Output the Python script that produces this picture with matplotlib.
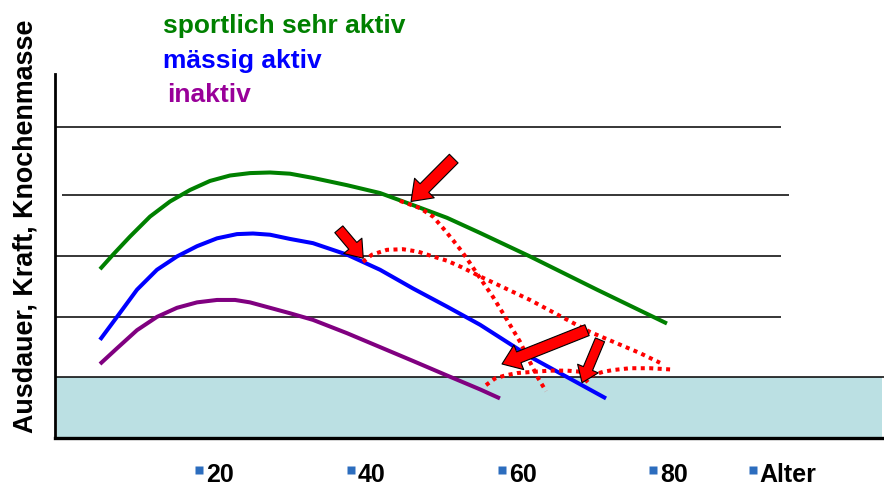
import matplotlib
matplotlib.use('Agg')
import matplotlib.pyplot as plt
from matplotlib.transforms import blended_transform_factory, offset_copy

plt.rcParams['font.family'] = ['Liberation Sans', 'DejaVu Sans']
plt.rcParams['font.weight'] = 'bold'

# age (years) against level (arbitrary units)
green_age = [4.74, 6.46, 8.71, 11.35, 13.99, 16.63, 19.27, 21.92, 24.56, 27.20,
             29.84, 32.88, 37.37, 41.73, 46.09, 50.58, 54.94, 61.55, 70.40, 79.64]
green_val = [2.79, 3.03, 3.33, 3.66, 3.91, 4.10, 4.25, 4.34, 4.38, 4.39,
             4.37, 4.30, 4.18, 4.05, 3.85, 3.64, 3.39, 3.00, 2.45, 1.89]

blue_age = [4.74, 6.99, 9.63, 12.27, 14.91, 17.56, 20.20, 22.84, 24.95, 27.20,
            29.84, 32.88, 37.37, 41.73, 46.09, 50.58, 54.94, 61.55, 71.59]
blue_val = [1.62, 2.00, 2.45, 2.78, 3.00, 3.17, 3.30, 3.37, 3.38, 3.36,
            3.29, 3.22, 3.03, 2.78, 2.47, 2.17, 1.87, 1.34, 0.65]

purple_age = [4.74, 6.99, 9.63, 12.27, 14.91, 17.56, 20.20, 22.58, 24.56, 27.20,
              29.84, 32.88, 37.37, 41.73, 46.09, 50.58, 54.94, 57.58]
purple_val = [1.22, 1.48, 1.78, 2.00, 2.15, 2.24, 2.28, 2.28, 2.24, 2.15,
              2.06, 1.95, 1.73, 1.50, 1.27, 1.03, 0.80, 0.65]

# red dotted declines
drop1_age = [44.37, 47.01, 48.73, 50.05, 51.37, 52.56, 53.62, 54.68, 56.66,
             58.51, 60.22, 61.55, 62.60, 63.66]
drop1_val = [3.92, 3.80, 3.66, 3.47, 3.27, 3.08, 2.89, 2.69, 2.33,
             1.95, 1.59, 1.25, 0.99, 0.77]

drop2_age = [39.48, 40.67, 42.65, 44.77, 46.75, 48.73, 50.58, 52.56, 54.94,
             61.55, 69.48, 73.44, 76.08, 78.72]
drop2_val = [2.91, 3.03, 3.11, 3.12, 3.08, 3.00, 2.93, 2.82, 2.67,
             2.28, 1.75, 1.54, 1.40, 1.24]

drop3_age = [55.73, 56.92, 58.24, 59.83, 61.95, 64.19, 66.44, 68.42]
drop3_val = [0.87, 0.98, 1.03, 1.07, 1.09, 1.11, 1.11, 1.09]

drop4_age = [68.82, 69.87, 71.20, 72.52, 74.76, 77.41, 80.05]
drop4_val = [0.92, 1.04, 1.09, 1.12, 1.15, 1.15, 1.13]

# arrows: (tail, tip)
arrows = [((51.47, 4.62), (45.83, 3.91)),
          ((36.29, 3.45), (39.52, 2.97)),
          ((69.08, 1.78), (57.85, 1.22)),
          ((70.79, 1.62), (68.42, 0.91))]
arrow_size = [21, 18, 20, 17]

# horizontal lines: level, start age, end age
grid_levels = [1, 2, 3, 4.01, 5.14]
grid_start = [-1.24, -1.24, -1.24, -0.28, -1.24]
grid_end = [108.31, 94.7, 94.7, 95.76, 94.7]

tick_pos = [20, 40, 60, 80, 93.1]
tick_labels = ['20', '40', '60', '80', 'Alter']

legend_text = ['sportlich sehr aktiv', 'mässig aktiv', 'inaktiv']
legend_color = ['#008000', '#0000FF', '#990099']

fig = plt.figure(figsize=(8.84, 4.86), dpi=100)
ax = fig.add_axes([0.0619, 0.0994, 0.9381, 0.7483])
ax.set_xlim(-1.24, 108.31)
ax.set_ylim(0, 6.02)
for s in ['top', 'right']:
    ax.spines[s].set_visible(False)
ax.spines['left'].set_linewidth(2.0)
ax.spines['bottom'].set_linewidth(2.4)
ax.set_xticks([])
ax.set_yticks([])

# low zone
ax.fill_between([-0.94, 108.05], 0, 1, color='#BBE0E3', lw=0, zorder=1)
ax.hlines(grid_levels, grid_start, grid_end, color='black', lw=1.1, zorder=2)

for xs, ys, c in [(green_age, green_val, '#008000'),
                  (blue_age, blue_val, '#0000FF'),
                  (purple_age, purple_val, '#800080')]:
    ax.plot(xs, ys, color=c, lw=2.9, solid_joinstyle='round',
            solid_capstyle='butt', zorder=3)

for xs, ys in [(drop1_age, drop1_val), (drop2_age, drop2_val),
               (drop3_age, drop3_val), (drop4_age, drop4_val)]:
    ax.plot(xs, ys, color='#FF0000', lw=2.9, linestyle=(0, (1, 1.1)),
            dash_capstyle='butt', zorder=4)

for (tail, tip), ms in zip(arrows, arrow_size):
    ax.annotate('', xy=tip, xytext=tail,
                arrowprops=dict(arrowstyle='simple,head_length=0.65,head_width=0.95,tail_width=0.42',
                                mutation_scale=ms, fc='#FF0000', ec='black', lw=0.8,
                                shrinkA=0, shrinkB=0), zorder=5)

# x labels with little square bullets
trans = blended_transform_factory(ax.transData, ax.transAxes)
txt_trans = offset_copy(trans, fig=fig, x=-9, y=-44.3, units='dots')
dot_trans = offset_copy(trans, fig=fig, x=-16.3, y=-32.8, units='dots')
for p, lab in zip(tick_pos, tick_labels):
    ax.text(p, 0, lab, transform=txt_trans, ha='left', va='baseline',
            fontsize=18, fontweight='bold', color='black')
    ax.plot([p], [0], 's', ms=5.8, color='#2C6DBE', mec='none',
            transform=dot_trans, clip_on=False)

fig.text(0.0362, 0.109, 'Ausdauer, Kraft, Knochenmasse', rotation=90,
         rotation_mode='anchor', ha='left', va='baseline', fontsize=19.4,
         fontweight='bold', color='black')

leg_x = [0.1844, 0.1844, 0.189]
leg_y = [0.932, 0.860, 0.790]
for x, y, t, c in zip(leg_x, leg_y, legend_text, legend_color):
    fig.text(x, y, t, ha='left', va='baseline', fontsize=19,
             fontweight='bold', color=c)

fig.savefig('out.png', dpi=100)
